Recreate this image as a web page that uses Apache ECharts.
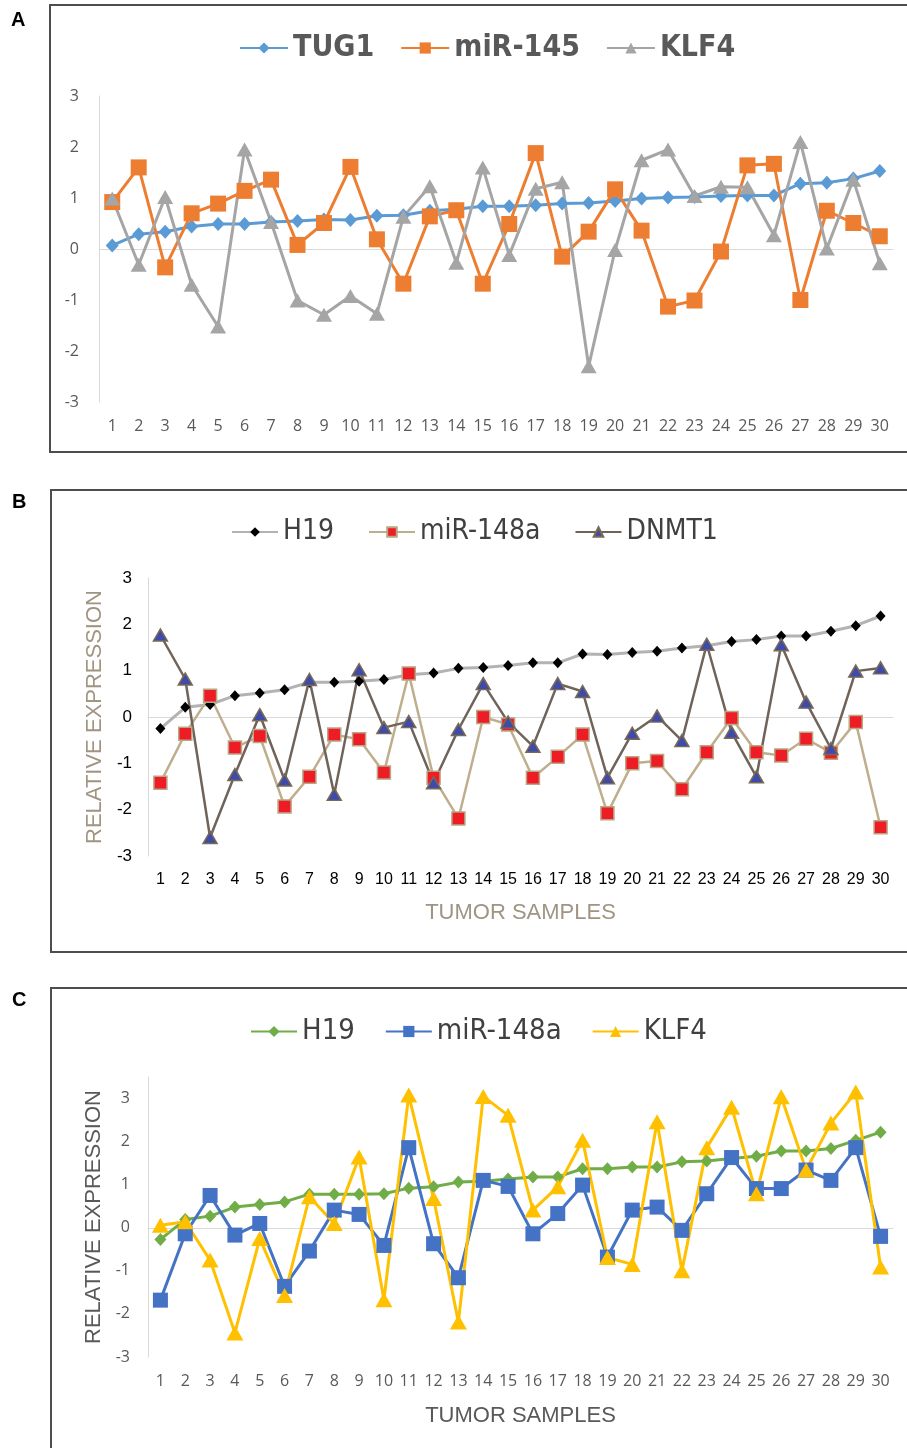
<!DOCTYPE html>
<html>
<head>
<meta charset="utf-8">
<script src="https://cdn.jsdelivr.net/npm/echarts@6/dist/echarts.min.js"></script>
<style>
  html, body { margin: 0; padding: 0; background: #fff; }
  #chart { width: 907px; height: 1448px; }
</style>
</head>
<body>
<div id="chart"></div>
<script>
// 肿瘤样本编号
const samples = ['1','2','3','4','5','6','7','8','9','10','11','12','13','14','15',
  '16','17','18','19','20','21','22','23','24','25','26','27','28','29','30'];
const yTicks = [-3, -2, -1, 0, 1, 2, 3];

// A
const tug1A = [0.07,0.29,0.34,0.44,0.49,0.49,0.53,0.55,0.58,0.57,0.65,0.66,0.75,0.78,0.84,
  0.84,0.86,0.89,0.90,0.94,0.99,1.01,1.02,1.04,1.05,1.05,1.28,1.30,1.38,1.53];
const mir145A = [0.92,1.60,-0.36,0.70,0.89,1.14,1.36,0.08,0.51,1.61,0.19,-0.68,0.64,0.76,-0.68,
  0.49,1.88,-0.15,0.34,1.17,0.36,-1.13,-1.01,-0.05,1.64,1.67,-1.00,0.75,0.51,0.25];
const klf4A = [0.99,-0.31,1.02,-0.70,-1.52,1.95,0.53,-1.01,-1.29,-0.92,-1.27,0.63,1.23,-0.27,1.60,
  -0.12,1.18,1.31,-2.30,-0.02,1.74,1.95,1.04,1.22,1.21,0.27,2.10,0.01,1.36,-0.28];

// B
const h19B = [-0.25,0.21,0.27,0.46,0.52,0.59,0.75,0.75,0.77,0.81,0.91,0.95,1.05,1.07,1.11,
  1.17,1.17,1.36,1.35,1.39,1.42,1.49,1.54,1.63,1.67,1.75,1.75,1.85,1.97,2.18];
const mir148aB = [-1.42,-0.36,0.46,-0.66,-0.41,-1.93,-1.29,-0.38,-0.48,-1.20,0.94,-1.31,-2.19,0.00,-0.16,
  -1.31,-0.86,-0.38,-2.08,-1.00,-0.95,-1.56,-0.76,-0.02,-0.76,-0.83,-0.47,-0.77,-0.11,-2.38];
const dnmt1B = [1.77,0.82,-2.60,-1.24,0.05,-1.36,0.81,-1.67,1.02,-0.23,-0.10,-1.42,-0.27,0.72,-0.11,
  -0.63,0.72,0.55,-1.31,-0.35,0.02,-0.51,1.57,-0.33,-1.29,1.56,0.32,-0.68,0.99,1.06];

// C
const h19C = [-0.27,0.19,0.27,0.48,0.54,0.60,0.78,0.78,0.78,0.79,0.92,0.95,1.06,1.08,1.13,
  1.18,1.18,1.37,1.37,1.41,1.41,1.53,1.55,1.61,1.66,1.78,1.78,1.84,2.03,2.22];
const mir148aC = [-1.68,-0.14,0.75,-0.17,0.10,-1.36,-0.54,0.41,0.31,-0.41,1.86,-0.37,-1.16,1.10,0.96,
  -0.14,0.33,0.99,-0.68,0.41,0.48,-0.06,0.79,1.63,0.91,0.91,1.34,1.10,1.86,-0.20];
const klf4C = [0.06,0.14,-0.75,-2.44,-0.25,-1.57,0.72,0.10,1.64,-1.67,3.08,0.68,-2.19,3.05,2.61,
  0.41,0.95,2.03,-0.69,-0.85,2.46,-1.00,1.86,2.80,0.79,3.04,1.34,2.43,3.15,-0.91];

const myChart = echarts.init(document.getElementById('chart'));

// 图例用窄一点的字体
const legendFont = '"DejaVu Sans Condensed", "Liberation Sans", sans-serif';

// 系列名前缀区分面板，图例里去掉前缀
const shortName = name => name.split(':')[1];

function lineSeries(name, idx, data, lineColor, width, symbol, size, fill, border) {
  return {
    name: name,
    type: 'line',
    xAxisIndex: idx,
    yAxisIndex: idx,
    data: data,
    symbol: symbol,
    symbolSize: size,
    showAllSymbol: true,
    lineStyle: { color: lineColor, width: width },
    itemStyle: { color: fill, borderColor: border || fill, borderWidth: border ? 1.5 : 0 },
    emphasis: { disabled: true },
    animation: false
  };
}

function xAxis(idx, color, size, font, margin, name, nameColor, nameGap) {
  return {
    type: 'category',
    gridIndex: idx,
    data: samples,
    boundaryGap: true,
    axisLine: { lineStyle: { color: '#d9d9d9', width: 1 } },
    axisTick: { show: false },
    axisLabel: { interval: 0, color: color, fontSize: size, fontFamily: font, margin: margin },
    name: name,
    nameLocation: 'middle',
    nameGap: nameGap,
    nameTextStyle: { color: nameColor, fontSize: 22, fontFamily: 'Liberation Sans' }
  };
}

function yAxis(idx, max, color, size, font, margin, nameColor) {
  return {
    type: 'value',
    gridIndex: idx,
    min: -3,
    max: max,
    interval: 1,
    splitLine: { show: false },
    axisTick: { show: false },
    axisLine: { show: true, lineStyle: { color: '#d9d9d9', width: 1 } },
    axisLabel: {
      color: color, fontSize: size, fontFamily: font, margin: margin,
      formatter: v => (yTicks.indexOf(v) >= 0 ? String(v) : '')
    },
    name: nameColor ? 'RELATIVE EXPRESSION' : '',
    nameLocation: 'middle',
    nameGap: 41,
    nameRotate: 90,
    nameTextStyle: { color: nameColor, fontSize: 22, fontFamily: 'Liberation Sans' }
  };
}

const option = {
  backgroundColor: '#fff',
  grid: [
    { left: 99, top: 96, width: 794, height: 306 },
    { left: 148, top: 578, width: 745, height: 278 },
    { left: 148, top: 1077, width: 745, height: 280 }
  ],
  legend: [
    {
      left: 234, top: 28, itemWidth: 48, itemHeight: 14, itemGap: 26,
      data: ['A:TUG1', 'A:miR-145', 'A:KLF4'],
      formatter: shortName,
      textStyle: { color: '#595959', fontSize: 30, fontWeight: 'bold', fontFamily: legendFont }
    },
    {
      left: 226, top: 513, itemWidth: 46, itemHeight: 12, itemGap: 34,
      data: ['B:H19', 'B:miR-148a', 'B:DNMT1'],
      formatter: shortName,
      textStyle: { color: '#404040', fontSize: 28, fontFamily: legendFont }
    },
    {
      left: 245, top: 1012, itemWidth: 46, itemHeight: 14, itemGap: 30,
      data: ['C:H19', 'C:miR-148a', 'C:KLF4'],
      formatter: shortName,
      textStyle: { color: '#404040', fontSize: 29, fontFamily: legendFont }
    }
  ],
  xAxis: [
    xAxis(0, '#595959', 16, 'Open Sans', 16, '', '#595959', 40),
    xAxis(1, '#000', 16, 'Liberation Sans', 16, 'TUMOR SAMPLES', '#a09482', 46),
    xAxis(2, '#595959', 16, 'Open Sans', 16, 'TUMOR SAMPLES', '#595959', 48)
  ],
  yAxis: [
    yAxis(0, 3, '#595959', 16, 'Open Sans', 20, null),
    yAxis(1, 3, '#000', 17, 'Liberation Sans', 16, '#a09482'),
    yAxis(2, 3.5, '#595959', 16, 'Open Sans', 18, '#595959')
  ],
  series: [
    lineSeries('A:TUG1', 0, tug1A, '#5b9bd5', 3, 'diamond', [13, 14], '#5b9bd5'),
    lineSeries('A:miR-145', 0, mir145A, '#ed7d31', 3, 'rect', 16, '#ed7d31'),
    lineSeries('A:KLF4', 0, klf4A, '#a5a5a5', 3, 'triangle', [16, 14], '#a5a5a5'),

    lineSeries('B:H19', 1, h19B, '#b3b3b3', 3, 'diamond', [10, 11], '#000'),
    lineSeries('B:miR-148a', 1, mir148aB, '#bfae8e', 2.5, 'rect', 13, '#ee1c25', '#b9a684'),
    lineSeries('B:DNMT1', 1, dnmt1B, '#6f635a', 2.5, 'triangle', [14, 12], '#3f4ba8', '#7a6a55'),

    lineSeries('C:H19', 2, h19C, '#70ad47', 3, 'diamond', [12, 13], '#70ad47'),
    lineSeries('C:miR-148a', 2, mir148aC, '#4472c4', 3, 'rect', 15, '#4472c4'),
    lineSeries('C:KLF4', 2, klf4C, '#ffc000', 3, 'triangle', [17, 15], '#ffc000')
  ],
  // 面板外框和字母
  graphic: [
    { type: 'rect', shape: { x: 50, y: 5, width: 870, height: 447 }, style: { fill: 'none', stroke: '#4d4d4d', lineWidth: 2 }, silent: true },
    { type: 'rect', shape: { x: 51, y: 490, width: 870, height: 462 }, style: { fill: 'none', stroke: '#4d4d4d', lineWidth: 2 }, silent: true },
    { type: 'rect', shape: { x: 51, y: 988, width: 870, height: 470 }, style: { fill: 'none', stroke: '#4d4d4d', lineWidth: 2 }, silent: true },
    { type: 'text', left: 11, top: 10, style: { text: 'A', fontSize: 20, fontWeight: 'bold', fontFamily: 'Liberation Sans', fill: '#000' } },
    { type: 'text', left: 12, top: 492, style: { text: 'B', fontSize: 20, fontWeight: 'bold', fontFamily: 'Liberation Sans', fill: '#000' } },
    { type: 'text', left: 12, top: 990, style: { text: 'C', fontSize: 20, fontWeight: 'bold', fontFamily: 'Liberation Sans', fill: '#000' } }
  ]
};

myChart.setOption(option);
</script>
</body>
</html>
